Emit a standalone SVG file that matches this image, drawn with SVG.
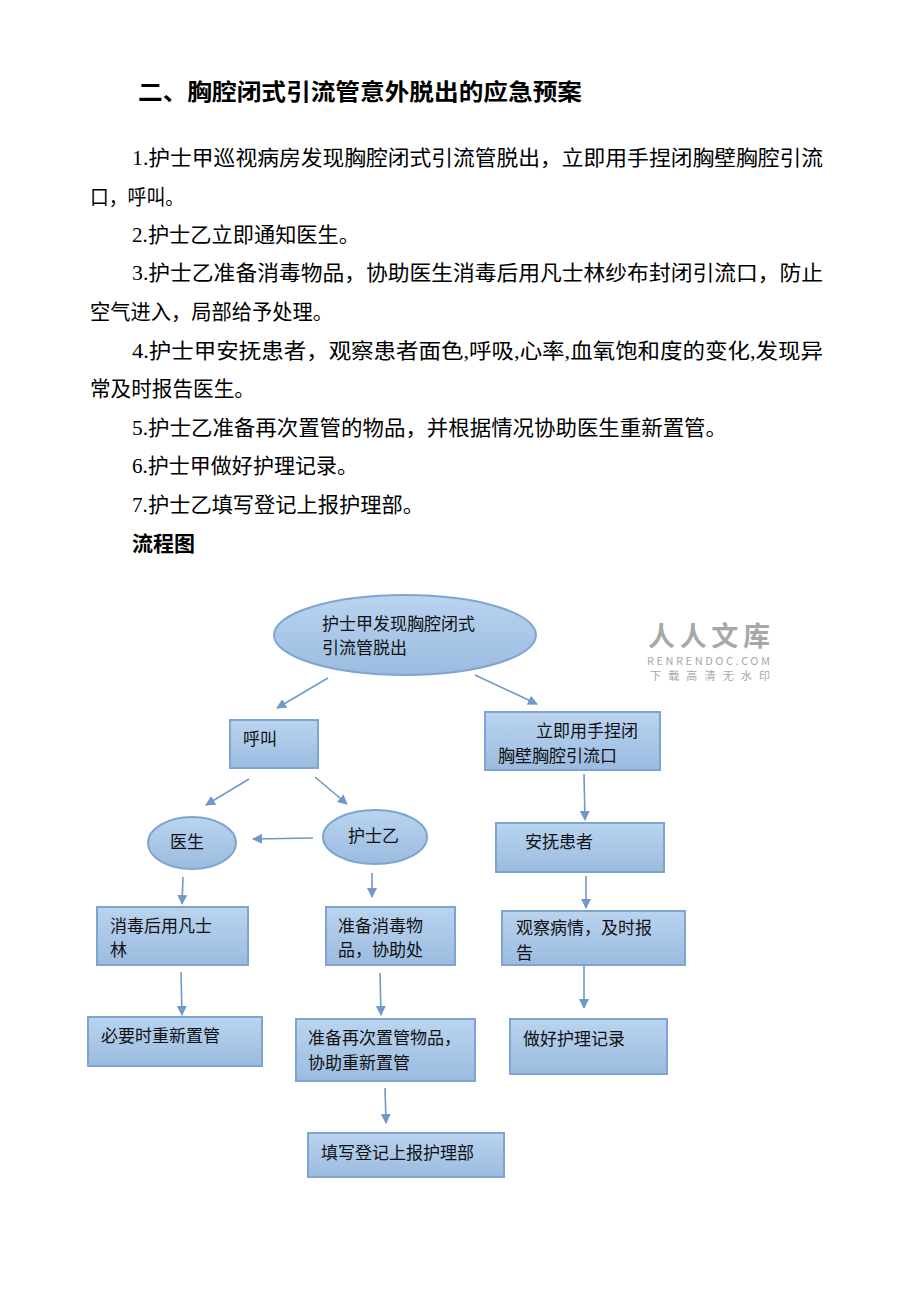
<svg xmlns="http://www.w3.org/2000/svg" width="920" height="1302" viewBox="0 0 920 1302">
<defs>
<linearGradient id="g" x1="0" y1="0" x2="0" y2="1"><stop offset="0" stop-color="#bad4f0"/><stop offset="1" stop-color="#9bbbdf"/></linearGradient>
<marker id="a" markerWidth="10" markerHeight="10" refX="9" refY="5" orient="auto" markerUnits="userSpaceOnUse"><path d="M0,0 L10,5 L0,10 z" fill="#6f99c6"/></marker>
</defs>
<style>
.p{font-family:"Liberation Serif","Noto Sans CJK SC",serif;font-size:21px;fill:#000}
.t{font-family:"Noto Sans CJK SC",sans-serif;font-size:23px;font-weight:bold;fill:#000}
.s{fill:url(#g);stroke:#7da5cf;stroke-width:2}
.n{font-family:"Noto Sans CJK SC",sans-serif;font-size:17px;fill:#111}
.c line{stroke:#6f99c6;stroke-width:1.6;marker-end:url(#a)}
.w{font-family:"Noto Sans CJK SC",sans-serif;fill:#a8a8a8}
</style>
<rect width="920" height="1302" fill="#fff"/>
<text class="t" x="138" y="100" textLength="444" lengthAdjust="spacingAndGlyphs">二、胸腔闭式引流管意外脱出的应急预案</text>
<text class="p" x="132" y="165" textLength="691" lengthAdjust="spacingAndGlyphs">1.护士甲巡视病房发现胸腔闭式引流管脱出，立即用手捏闭胸壁胸腔引流</text>
<text class="p" x="90" y="204" textLength="94" lengthAdjust="spacingAndGlyphs">口，呼叫。</text>
<text class="p" x="132" y="242" textLength="228" lengthAdjust="spacingAndGlyphs">2.护士乙立即通知医生。</text>
<text class="p" x="132" y="280" textLength="691" lengthAdjust="spacingAndGlyphs">3.护士乙准备消毒物品，协助医生消毒后用凡士林纱布封闭引流口，防止</text>
<text class="p" x="90" y="319" textLength="243" lengthAdjust="spacingAndGlyphs">空气进入，局部给予处理。</text>
<text class="p" x="132" y="358" textLength="691" lengthAdjust="spacingAndGlyphs">4.护士甲安抚患者，观察患者面色,呼吸,心率,血氧饱和度的变化,发现异</text>
<text class="p" x="90" y="396" textLength="165" lengthAdjust="spacingAndGlyphs">常及时报告医生。</text>
<text class="p" x="132" y="435" textLength="595" lengthAdjust="spacingAndGlyphs">5.护士乙准备再次置管的物品，并根据情况协助医生重新置管。</text>
<text class="p" x="132" y="473" textLength="226" lengthAdjust="spacingAndGlyphs">6.护士甲做好护理记录。</text>
<text class="p" x="132" y="512" textLength="292" lengthAdjust="spacingAndGlyphs">7.护士乙填写登记上报护理部。</text>
<text class="t" x="132" y="551" style="font-size:21px" textLength="63">流程图</text>
<g id="wm">
<text class="w" x="648" y="646" style="font-size:27px;font-weight:bold" textLength="122">人人文库</text>
<text class="w" x="647" y="665" style="font-size:11px" textLength="123">RENRENDOC.COM</text>
<text class="w" x="650" y="680" style="font-size:11px" textLength="120">下载高清无水印</text>
</g>
<g class="c">
<line x1="328" y1="678" x2="277" y2="708"/>
<line x1="475" y1="675" x2="537" y2="704"/>
<line x1="249" y1="779" x2="206" y2="805"/>
<line x1="315" y1="777" x2="347" y2="804"/>
<line x1="313" y1="838" x2="253" y2="839"/>
<line x1="584" y1="774" x2="585" y2="820"/>
<line x1="183" y1="877" x2="182" y2="904"/>
<line x1="372" y1="873" x2="372" y2="897"/>
<line x1="586" y1="876" x2="586" y2="908"/>
<line x1="181" y1="972" x2="182" y2="1015"/>
<line x1="380" y1="973" x2="381" y2="1015"/>
<line x1="584" y1="966" x2="584" y2="1008"/>
<line x1="385" y1="1088" x2="386" y2="1123"/>
</g>
<g id="n1"><ellipse class="s" cx="405" cy="635" rx="131" ry="40"/><text class="n" x="322" y="630">护士甲发现胸腔闭式</text><text class="n" x="322" y="654">引流管脱出</text></g>
<g id="n2"><rect class="s" x="230" y="720" width="88" height="48"/><text class="n" x="243" y="745">呼叫</text></g>
<g id="n3"><rect class="s" x="485" y="712" width="175" height="58"/><text class="n" x="536" y="737">立即用手捏闭</text><text class="n" x="498" y="762">胸壁胸腔引流口</text></g>
<g id="n4"><ellipse class="s" cx="192" cy="843" rx="44" ry="26"/><text class="n" x="170" y="848">医生</text></g>
<g id="n5"><ellipse class="s" cx="375" cy="837" rx="52" ry="27"/><text class="n" x="348" y="842">护士乙</text></g>
<g id="n6"><rect class="s" x="496" y="823" width="168" height="49"/><text class="n" x="525" y="848">安抚患者</text></g>
<g id="n7"><rect class="s" x="97" y="907" width="151" height="58"/><text class="n" x="110" y="932">消毒后用凡士</text><text class="n" x="110" y="956">林</text></g>
<g id="n8"><rect class="s" x="326" y="907" width="129" height="58"/><text class="n" x="338" y="932">准备消毒物</text><text class="n" x="338" y="956">品，协助处</text></g>
<g id="n9"><rect class="s" x="502" y="911" width="183" height="54"/><text class="n" x="516" y="934">观察病情，及时报</text><text class="n" x="516" y="959">告</text></g>
<g id="n10"><rect class="s" x="88" y="1017" width="174" height="49"/><text class="n" x="101" y="1042">必要时重新置管</text></g>
<g id="n11"><rect class="s" x="296" y="1019" width="179" height="62"/><text class="n" x="308" y="1044">准备再次置管物品，</text><text class="n" x="308" y="1069">协助重新置管</text></g>
<g id="n12"><rect class="s" x="510" y="1019" width="157" height="55"/><text class="n" x="523" y="1045">做好护理记录</text></g>
<g id="n13"><rect class="s" x="308" y="1133" width="196" height="44"/><text class="n" x="321" y="1159">填写登记上报护理部</text></g>
</svg>
